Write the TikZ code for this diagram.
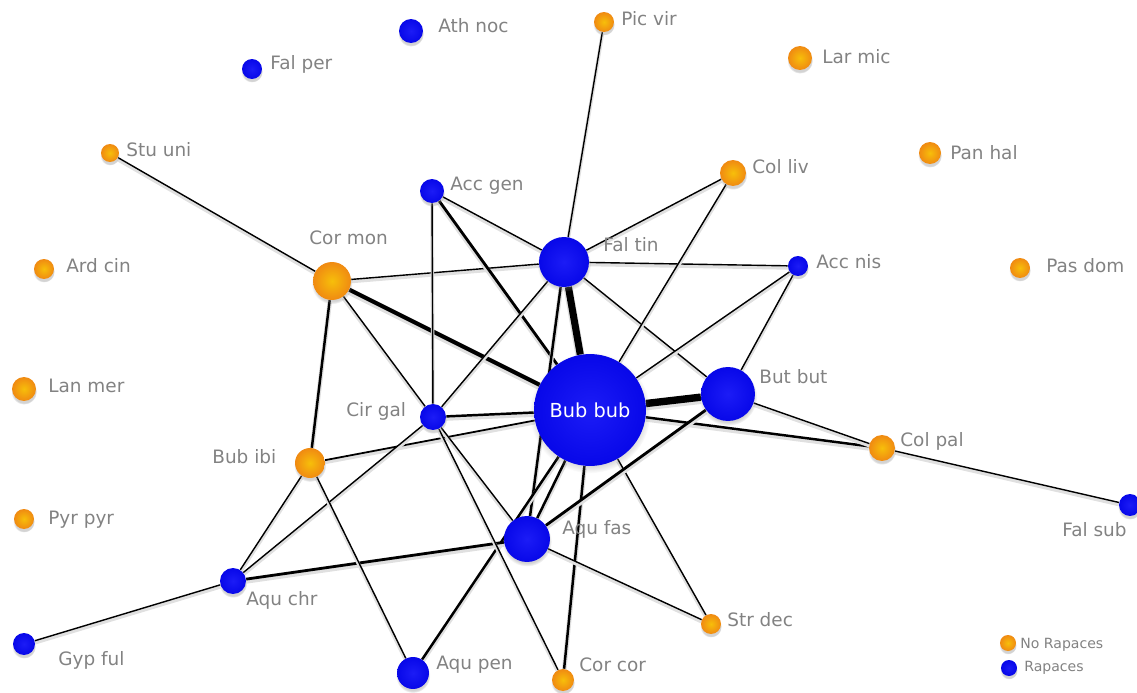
\documentclass[tikz,border=0pt]{standalone}
\usepackage{fontspec}
\setmainfont{DejaVu Sans}
\usetikzlibrary{shadows,backgrounds}

\definecolor{raptor}{RGB}{8,8,245}
\definecolor{nonraptor}{RGB}{240,138,18}
\definecolor{labelgray}{RGB}{130,130,130}

\tikzset{
  bird/.style={circle, inner sep=0pt, minimum size=#1*0.04cm,
    circular drop shadow={shadow xshift=0pt, shadow yshift=-0.05cm, shadow scale=1.08, opacity=0.35}},
  rap/.style={bird=#1, inner color=raptor!92!white, outer color=raptor!95!black},
  norap/.style={bird=#1, inner color=nonraptor!55!yellow, outer color=nonraptor},
  sptext/.style={anchor=west, inner sep=0pt, text=labelgray, font=\fontsize{10.5}{12}\selectfont},
  lnk/.style={line width=#1pt, black,
    preaction={draw=black!12, line width=#1pt+1.2pt, transform canvas={yshift=-1.2pt}}},
}

\begin{document}
\begin{tikzpicture}[x=0.02cm, y=-0.02cm]
\useasboundingbox (0,0) rectangle (1137,693);

% raptors
\foreach \n/\x/\y/\r/\lx/\ly/\t in {
    athnoc/411/31/12/438/26/Ath noc, falper/252/69/10/270/64/Fal per,
    accgen/432/191/12/450/186/Acc gen, faltin/564/262/25/603/245/Fal tin,
    accnis/798/266/10/816/262/Acc nis, butbut/728/394/27/759/377/But but,
    cirgal/433/417/13/346/411/Cir gal, aqufas/527/539/23/562/529/Aqu fas,
    falsub/1130/505/11/1062/530/Fal sub, aquchr/233/581/13/246/600/Aqu chr,
    gypful/24/644/11/58/660/Gyp ful, aqupen/413/673/16/436/665/Aqu pen} {
    \node[rap=\r] (\n) at (\x,\y) {};
    \node[sptext] (\n-t) at (\lx,\ly) {\t};}
\node[rap=56, text=white, font=\fontsize{11}{13}\selectfont] (bubbub) at (590,410) {Bub bub};

% non raptors
\foreach \n/\x/\y/\r/\lx/\ly/\t in {
    picvir/604/22/10/621/19/Pic vir, larmic/800/58/12/822/57/Lar mic,
    stuuni/110/153/9/126/150/Stu uni, panhal/930/153/11/950/153/Pan hal,
    colliv/733/173/13/752/167/Col liv, ardcin/44/269/10/66/266/Ard cin,
    pasdom/1020/268/10/1046/266/Pas dom, cormon/332/281/19/309/238/Cor mon,
    lanmer/24/389/12/48/386/Lan mer, colpal/882/448/13/900/441/Col pal,
    bubibi/310/463/15/212/457/Bub ibi, pyrpyr/24/519/10/48/520/Pyr pyr,
    strdec/711/624/10/727/620/Str dec, corcor/563/680/11/579/665/Cor cor} {
    \node[norap=\r] (\n) at (\x,\y) {};
    \node[sptext] (\n-t) at (\lx,\ly) {\t};}

% links
\begin{scope}[on background layer]
\foreach \a/\b/\w in {
    stuuni/cormon/0.8, picvir/faltin/0.8, cormon/faltin/0.8, cormon/bubbub/2.4,
    cormon/cirgal/0.8, cormon/bubibi/1.4, accgen/faltin/0.8, accgen/bubbub/1.6,
    accgen/cirgal/0.8, faltin/bubbub/4, faltin/colliv/0.8, faltin/accnis/0.8,
    faltin/cirgal/0.8, faltin/butbut/0.8, faltin/aqufas/1.4, colliv/bubbub/0.8,
    accnis/bubbub/0.8, accnis/butbut/0.8, bubbub/butbut/4.2, bubbub/colpal/1.4,
    butbut/colpal/0.8, colpal/falsub/0.8, bubbub/cirgal/1.4, bubbub/bubibi/1,
    bubbub/aqufas/1.4, bubbub/aqupen/1.4, bubbub/corcor/1.4, bubbub/strdec/0.8,
    butbut/aqufas/1.6, aqufas/aquchr/1.6, aqufas/strdec/0.8, cirgal/aqufas/0.8,
    cirgal/corcor/0.8, cirgal/aquchr/0.8, bubibi/aquchr/0.8, bubibi/aqupen/0.8,
    aquchr/gypful/0.8}
    \draw[lnk=\w] (\a) -- (\b);
\end{scope}

% legend
\node[norap=8] (legno) at (1008,643) {};
\node[rap=8] (legrap) at (1009,668) {};
\node[sptext, font=\fontsize{8}{10}\selectfont] (legno-t) at (1020,645) {No Rapaces};
\node[sptext, font=\fontsize{8}{10}\selectfont] (legrap-t) at (1024,668) {Rapaces};

\end{tikzpicture}
\end{document}
